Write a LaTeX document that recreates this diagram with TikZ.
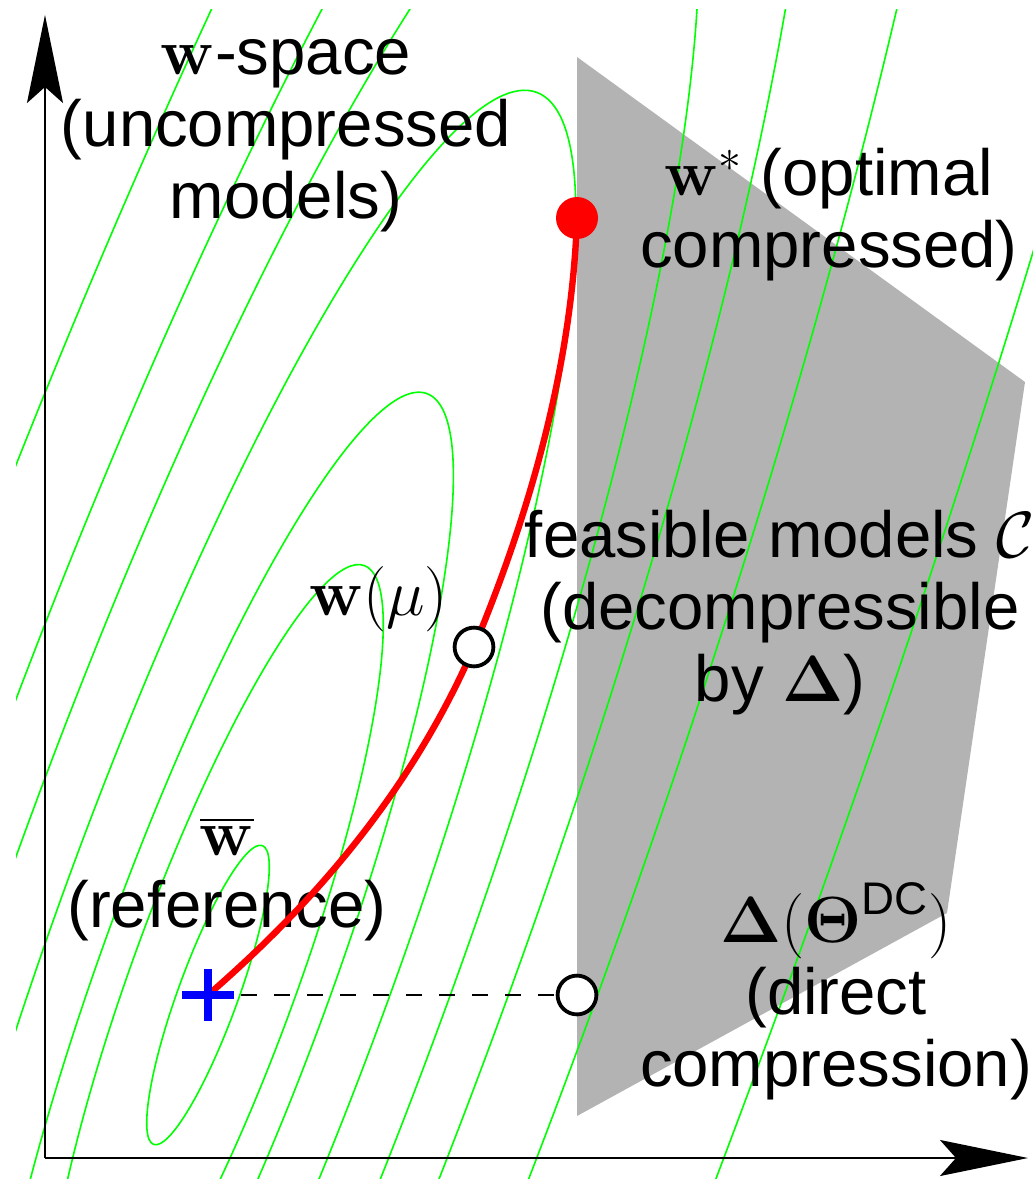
\RequirePackage{fix-cm}
\documentclass[tikz,border=0pt]{standalone}
\usepackage{amsmath}
\usepackage[no-math]{fontspec}
\setmainfont{Liberation Sans}
\definecolor{lvlgreen}{RGB}{0,255,0}
\definecolor{feasgrey}{RGB}{179,179,179}
\usetikzlibrary{arrows.meta, shapes.misc}
\pgfdeclarelayer{front}
\pgfsetlayers{main,front}

\begin{document}
\begin{tikzpicture}[x=0.5pt, y=-0.5pt,
  lbl/.style={align=center, anchor=base, inner sep=0pt,
    font=\fontsize{32.65}{36}\selectfont},
  level/.style={lvlgreen, line width=0.8pt},
  axis/.style={line width=1pt, -{Stealth[length=44pt, width=18pt, inset=8pt]}},
  hollow/.style={circle, draw=black, fill=white, line width=1.9pt,
    minimum size=19.4pt, inner sep=0pt},
  mupath/.style={red, line width=3.2pt}]
\useasboundingbox (0,0) rectangle (1033,1179);
% feasible set C
\fill[feasgrey] (577,57) -- (1025,382) -- (947,913) -- (577,1116) -- cycle;
% level curves of the loss
\begin{scope}
\clip (16,9) rectangle (1033,1179);
\foreach \a/\t in {159/0, 437/20, 610/30, 905/55.6, 1205/77, 1494/99,
                   1937/131.5, 2865/200.6}
  \draw[level, shift={({208+0.342*\t},{995-0.94*\t})}, rotate=70]
    (0,0) circle [x radius=\a, y radius={0.189*\a}];
\end{scope}
% axes
\coordinate (o) at (45,1158);
\coordinate (xend) at (1028,1158);
\coordinate (yend) at (45,15);
\draw[axis] (o) -- (xend);
\draw[axis] (o) -- (yend);
% labels (anchored at the baseline of their last line)
\node[lbl] (spacelbl) at (286,218) {$\mathbf{w}$-space\\(uncompressed\\models)};
\node[lbl] (optlbl) at (829,267.4) {$\mathbf{w}^*$ (optimal\\compressed)};
\node[lbl] (feaslbl) at (780,701.5)
  {feasible models $\mathcal{C}$\\(decompressible\\by $\boldsymbol{\Delta}$)};
\node[lbl] (dclbl) at (836,1086)
  {$\boldsymbol{\Delta}(\boldsymbol{\Theta}^{\text{DC}})$\\(direct\\compression)};
\node[lbl] (reflbl) at (227,927.6) {$\overline{\mathbf{w}}$\\(reference)};
\node[lbl] (mulbl) at (378.5,615) {$\mathbf{w}(\mu)$};
% points
\begin{pgfonlayer}{front}
\node[hollow] (dc) at (577,995) {};
\node[hollow] (wmu) at (474,647) {};
\node[circle, fill=red, minimum size=21pt, inner sep=0pt] (opt) at (577,218) {};
\node[cross out, draw=blue, line width=4pt, minimum size=14.5pt,
  inner sep=0pt, rotate=45] (ref) at (208,995) {};
\end{pgfonlayer}
\draw[dash pattern=on 8pt off 8.5pt, line width=0.65pt] (ref.center) -- (dc);
\draw[mupath] (ref.center) .. controls (321,897) and (414,785) .. (wmu.center)
  .. controls (530.5,511.6) and (572,365) .. (opt.center);
\end{tikzpicture}
\end{document}
